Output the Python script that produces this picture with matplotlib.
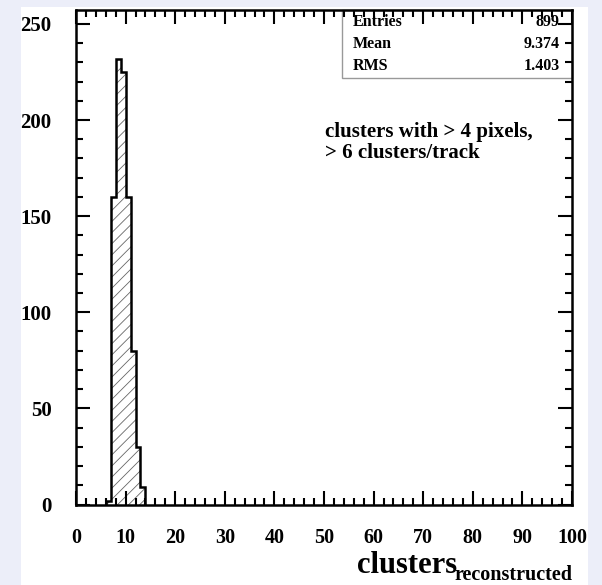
import matplotlib.pyplot as plt
import matplotlib.patches as mpatches
import numpy as np

# histogram contents (bin width 1)
bin_edges = np.arange(6, 15)
counts = [2, 160, 232, 225, 160, 80, 30, 9]

stats_names = ['Entries', 'Mean', 'RMS']
stats_values = ['899', '9.374', '1.403']

plt.rcParams['font.family'] = 'Liberation Serif'
plt.rcParams['font.weight'] = 'bold'
plt.rcParams['hatch.linewidth'] = 0.6

W, H = 602, 585


def fx(px):
    return px / W


def fy(py):
    return 1 - py / H


fig = plt.figure(figsize=(6.02, 5.85), dpi=100, facecolor='#eceef9')
# white pad behind the frame
fig.patches.append(mpatches.Rectangle((fx(21), 0), fx(588) - fx(21), fy(7),
                                      transform=fig.transFigure, facecolor='white',
                                      edgecolor='none', zorder=-5))
# stats box (drawn under the frame so the ticks stay on top)
fig.patches.append(mpatches.Rectangle((fx(342), fy(78)), fx(572) - fx(342), fy(9.5) - fy(78),
                                      transform=fig.transFigure, facecolor='white',
                                      edgecolor='#999999', linewidth=1, zorder=-1))

ax = fig.add_axes([fx(76), fy(504.5), fx(572) - fx(76), (504.5 - 9.5) / H])
ax.set_zorder(1)
ax.patch.set_visible(False)

ax.stairs(counts, bin_edges, fill=True, facecolor='none', edgecolor='#666666',
          hatch='///', linewidth=0)
ax.stairs(counts, bin_edges, color='black', linewidth=1.8)

ax.set_xlim(0, 100)
ax.set_ylim(0, 257.5)
ax.set_xticks(np.arange(0, 101, 10))
ax.set_xticks(np.arange(0, 101, 2), minor=True)
ax.set_yticks(np.arange(0, 251, 50))
ax.set_yticks(np.arange(0, 251, 10), minor=True)
ax.tick_params(which='both', direction='in', top=True, right=True, width=1.5)
ax.tick_params(which='major', length=10)
ax.tick_params(which='minor', length=5)
ax.tick_params(axis='x', pad=17, labelsize=14.5)
ax.tick_params(axis='y', pad=17.5, labelsize=15)
for s in ax.spines.values():
    s.set_linewidth(1.8)

for i, (n, v) in enumerate(zip(stats_names, stats_values)):
    y = fy(22 + i * 22)
    fig.text(fx(353), y, n, fontsize=11.5, va='center', zorder=6)
    fig.text(fx(560), y, v, fontsize=11.5, va='center', ha='right', zorder=6)

fig.text(fx(325), fy(137), 'clusters with > 4 pixels,', fontsize=15, va='baseline')
fig.text(fx(325), fy(158), '> 6 clusters/track', fontsize=15, va='baseline')

fig.text(fx(357), fy(573), 'clusters', fontsize=22, va='baseline')
fig.text(fx(454), fy(580), 'reconstructed', fontsize=14.5, va='baseline')

fig.savefig('out.png', dpi=100, facecolor=fig.get_facecolor())
